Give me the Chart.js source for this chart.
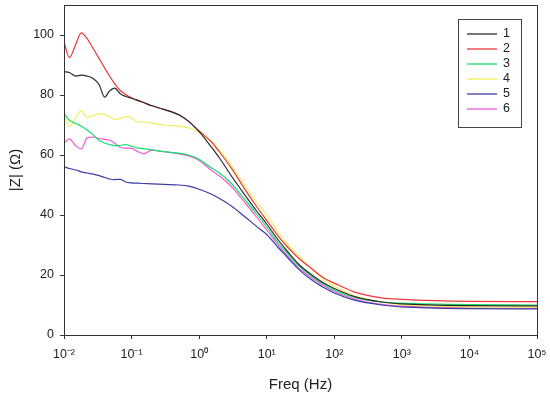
<!DOCTYPE html>
<html lang="en">
  <head>
    <meta charset="UTF-8" />
    <title>|Z| vs Freq</title>
    <script src="https://cdn.jsdelivr.net/npm/chart.js"></script>
    <style>
      html, body { margin: 0; padding: 0; background: #fff; }
      #wrap { width: 550px; height: 396px; }
    </style>
  </head>
  <body>
    <div id="wrap"><canvas id="impChart" width="550" height="396"></canvas></div>

    <script>
      // frequencies (Hz)
      const freq = [0.01, 0.012, 0.015, 0.018, 0.022, 0.027, 0.033, 0.04, 0.047, 0.056, 0.068, 0.082,
        0.1, 0.12, 0.15, 0.2, 0.3, 0.5, 0.7, 1, 1.5, 2, 3, 5, 7, 10, 15, 20, 30, 50, 70, 100,
        200, 500, 1000, 10000, 100000];

      // |Z| values (Ohm) for each sample
      const z1 = [87.8, 87.5, 86.3, 86.6, 86.3, 85.5, 83.5, 79.3, 81.3, 82.3, 80.4, 79.5,
        78.9, 78.3, 77.5, 76.4, 75.2, 73.4, 71.2, 67.8, 62.8, 59, 53, 46, 41.5, 37, 31.5, 28, 23.5, 19.5, 17.3, 15.5,
        12.8, 11, 10.4, 9.8, 9.7];
      const z2 = [97.8, 92.5, 97, 100.7, 98.8, 95.5, 92.2, 89, 86.4, 83.8, 81.5, 80.2,
        79.1, 78.3, 77.5, 76.4, 75.2, 73.4, 71.2, 68, 64.5, 61, 55.6, 47.8, 43, 38.2, 32.8, 29.5, 25.5, 21.5, 19, 17.3,
        14.3, 12.4, 11.9, 11.2, 11.1];
      const z3 = [73.9, 71.6, 70.5, 69.6, 68.3, 66.7, 64.9, 64, 63.5, 63.1, 63.2, 63.5,
        62.9, 62.4, 62.1, 61.7, 61.1, 60.6, 60, 58.6, 55.8, 54, 50.5, 44.5, 40.5, 36, 30.5, 27.3, 23, 19, 17, 15,
        12.5, 11, 10.6, 10.1, 10];
      const z4 = [73.9, 69.5, 72.5, 74.8, 72.5, 73.2, 73.8, 73.5, 72.8, 71.9, 72.2, 72.8,
        72.4, 71, 71, 70.6, 70, 69.6, 69, 67.5, 64.5, 61.5, 56.5, 49, 44.5, 40, 34, 30.5, 26.3, 21.3, 18.6, 16.3,
        13, 11, 10.1, 9.4, 9.3];
      const z5 = [56.1, 55.5, 55, 54.4, 54, 53.6, 53.1, 52.5, 52, 51.8, 51.9, 51,
        50.7, 50.6, 50.5, 50.4, 50.2, 50, 49.6, 48.6, 47, 45.5, 43, 39, 36.3, 33.5, 29, 26, 21.8, 17.8, 15.8, 14,
        11.6, 10, 9.4, 8.8, 8.7];
      const z6 = [63.9, 65.4, 63, 62, 65.7, 66, 65.5, 65.2, 65, 64, 62.5, 62.3,
        62.2, 61.3, 60.4, 61.6, 61.1, 60.4, 59.7, 58.2, 55, 53, 49.5, 43.5, 39.5, 35, 29.8, 26.5, 22.3, 18.5, 16.5, 14.5,
        12, 10.2, 9.6, 9, 8.9];

      const seriesNames = ["1", "2", "3", "4", "5", "6"];
      const seriesColors = ["#2b2b2b", "#e8383c", "#12e26a", "#f2ee5a", "#3c3ca6", "#f25ad2"];
      const xTickLabels = ["10⁻²", "10⁻¹", "10⁰", "10¹", "10²", "10³", "10⁴", "10⁵"];
      const yTicks = [0, 20, 40, 60, 80, 100];

      const allZ = [z1, z2, z3, z4, z5, z6];
      const FONT = "'Liberation Sans', Arial, sans-serif";
      const AXIS = "#333";

      // frame + legend box inside the plot
      const framePlugin = {
        id: "frame",
        afterDraw(chart) {
          const { ctx, chartArea: a } = chart;
          ctx.save();
          ctx.strokeStyle = AXIS;
          ctx.lineWidth = 1;
          ctx.strokeRect(a.left + 0.5, a.top + 0.5, a.right - a.left, a.bottom - a.top);

          // legend
          const bx = 458, by = 19, bw = 63, bh = 108;
          ctx.strokeStyle = "#444";
          ctx.strokeRect(bx + 0.5, by + 0.5, bw, bh);
          ctx.font = "12.5px " + FONT;
          ctx.textBaseline = "middle";
          ctx.fillStyle = "#222";
          chart.data.datasets.forEach((ds, i) => {
            const y = by + 15 + i * 15;
            ctx.strokeStyle = ds.borderColor;
            ctx.lineWidth = 1.3;
            ctx.beginPath();
            ctx.moveTo(467, y);
            ctx.lineTo(497, y);
            ctx.stroke();
            ctx.fillText(ds.label, 503, y);
          });
          ctx.restore();
        },
      };

      const datasets = allZ.map((z, i) => ({
        label: seriesNames[i],
        data: freq.map((f, k) => ({ x: f, y: z[k] })),
        borderColor: seriesColors[i],
        borderWidth: 1.2,
        pointRadius: 0,
        fill: false,
        cubicInterpolationMode: "monotone",
      }));

      new Chart(document.getElementById("impChart"), {
        type: "line",
        data: { datasets },
        options: {
          responsive: false,
          animation: false,
          layout: { padding: { left: 0, right: 13, top: 5, bottom: 0 } },
          plugins: { legend: { display: false }, tooltip: { enabled: false } },
          scales: {
            x: {
              type: "logarithmic",
              min: 0.01,
              max: 100000,
              afterBuildTicks: (s) => {
                s.ticks = xTickLabels.map((_, i) => ({ value: Math.pow(10, i - 2) }));
              },
              afterFit: (s) => {
                s.height = 61;
                s.paddingLeft = 0;
                s.paddingRight = 0;
              },
              ticks: {
                callback: (v) => xTickLabels[Math.round(Math.log10(v)) + 2],
                color: "#222",
                font: { family: FONT, size: 12.5 },
                padding: 8,
                maxRotation: 0,
                autoSkip: false,
              },
              grid: { drawOnChartArea: false, drawTicks: true, tickLength: 4, color: AXIS },
              border: { display: true, color: AXIS },
              title: {
                display: true,
                text: "Freq (Hz)",
                color: "#222",
                font: { family: FONT, size: 15 },
                padding: { top: 0, bottom: 2 },
              },
            },
            y: {
              min: 0,
              max: 110,
              afterBuildTicks: (s) => {
                s.ticks = yTicks.map((v) => ({ value: v }));
              },
              afterFit: (s) => {
                s.width = 64;
                s.paddingTop = 0;
                s.paddingBottom = 0;
              },
              ticks: {
                color: "#222",
                font: { family: FONT, size: 12.5 },
                padding: 6,
              },
              grid: { drawOnChartArea: false, drawTicks: true, tickLength: 4, color: AXIS },
              border: { display: true, color: AXIS },
              title: {
                display: true,
                text: "|Z| (Ω)",
                color: "#222",
                font: { family: FONT, size: 15 },
                padding: { top: 7, bottom: 0 },
              },
            },
          },
        },
        plugins: [framePlugin],
      });
    </script>
  </body>
</html>
